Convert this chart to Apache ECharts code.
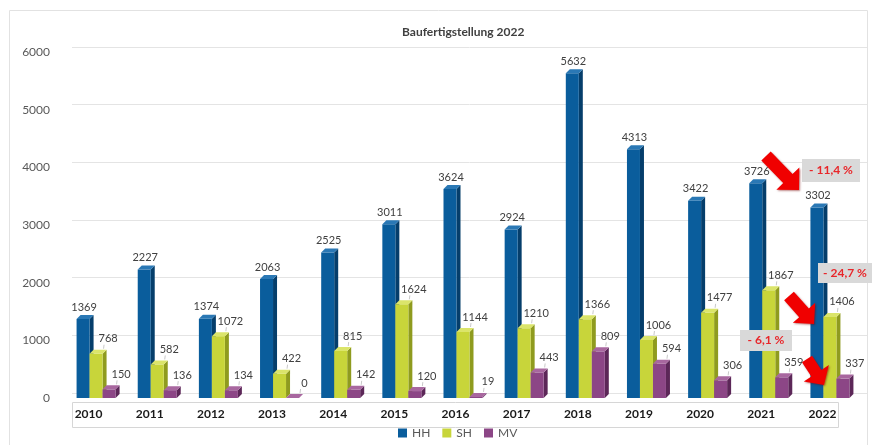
<!DOCTYPE html>
<html>
<head>
<meta charset="utf-8">
<script src="https://cdn.jsdelivr.net/npm/echarts@6/dist/echarts.min.js"></script>
<style>html,body{margin:0;padding:0;background:#fff}#c{width:873px;height:445px}</style>
</head>
<body>
<div id="c"></div>
<script>
const years = ['2010','2011','2012','2013','2014','2015','2016','2017','2018','2019','2020','2021','2022'];
const hh = [1369,2227,1374,2063,2525,3011,3624,2924,5632,4313,3422,3726,3302];
const sh = [768,582,1072,422,815,1624,1144,1210,1366,1006,1477,1867,1406];
const mv = [150,136,134,0,142,120,19,443,809,594,306,359,337];
const yTicks = [0,1000,2000,3000,4000,5000,6000];
const notes = [
  {text:'- 11,4 %', box:[802,159,58,23], arrow:[766,156,799,190,13,32,16]},
  {text:'- 24,7 %', box:[818,263,54,20], arrow:[789,296,814,324,13,30,15]},
  {text:'- 6,1 %',  box:[740,330,52,21], arrow:[807,359,824,385,12,30,14]}
];

const FONT = 'Lato, "Liberation Sans", sans-serif';
const chart = echarts.init(document.getElementById('c'));

function make3d(offset, col, isHH){
  return function(params, api){
    const i = api.value(0), v = api.value(1);
    const base = api.coord([i, 0]);
    const top = api.coord([i, v]);
    const w = 13, d = 4;
    const cx = base[0] + offset;
    const x0 = cx - w/2, x1 = cx + w/2;
    const yT = top[1], yB = base[1];
    const ch = [
      {type:'polygon', shape:{points:[[x1,yT],[x1+d,yT-d],[x1+d,yB-d],[x1,yB]]}, style:{fill:col.side}},
      {type:'rect', shape:{x:x0, y:yT, width:w, height:yB-yT}, style:{fill:col.front}},
      {type:'polygon', shape:{points:[[x0,yT],[x0+d,yT-d],[x1+d,yT-d],[x1,yT]]}, style:{fill:col.top}}
    ];
    if (isHH) {
      ch.push({type:'text', style:{text:String(v), x:cx+1, y:yT-12, align:'center', verticalAlign:'middle', fill:'#404040', font:'11px ' + FONT}});
    } else {
      ch.push({type:'line', shape:{x1:x1+1, y1:yT-d-1, x2:cx+8, y2:yT-9}, style:{stroke:'#c8c8c8', lineWidth:1}});
      ch.push({type:'text', style:{text:String(v), x:cx+12, y:yT-15, align:'center', verticalAlign:'middle', fill:'#404040', font:'11px ' + FONT}});
    }
    return {type:'group', children:ch};
  };
}

function arrowPts(x1,y1,x2,y2,sw,hw,hl){
  const L = Math.hypot(x2-x1,y2-y1), ux=(x2-x1)/L, uy=(y2-y1)/L, nx=-uy, ny=ux;
  const bx = x2-ux*hl, by = y2-uy*hl;
  return [
    [x1+nx*sw/2, y1+ny*sw/2],
    [bx+nx*sw/2, by+ny*sw/2],
    [bx+nx*hw/2, by+ny*hw/2],
    [x2, y2],
    [bx-nx*hw/2, by-ny*hw/2],
    [bx-nx*sw/2, by-ny*sw/2],
    [x1-nx*sw/2, y1-ny*sw/2]
  ];
}

const graphics = [
  {type:'rect', shape:{x:9.5, y:10.5, width:858, height:440}, style:{fill:'none', stroke:'#e2e2e2', lineWidth:1}, z:-10},
  {type:'rect', shape:{x:72.5, y:402.5, width:766, height:25}, style:{fill:'none', stroke:'#d6d6d6', lineWidth:1}, z:-10}
];
notes.forEach(n => {
  graphics.push({type:'rect', shape:{x:n.box[0], y:n.box[1], width:n.box[2], height:n.box[3]}, style:{fill:'#d9d9d9'}, z:50});
  graphics.push({type:'text', style:{text:n.text, x:n.box[0]+n.box[2]/2, y:n.box[1]+n.box[3]/2, align:'center', verticalAlign:'middle', fill:'#e8262a', font:'bold 12px ' + FONT}, z:51});
  const a = n.arrow;
  graphics.push({type:'polygon', shape:{points:arrowPts(a[0],a[1],a[2],a[3],a[4],a[5],a[6])}, style:{fill:'#f00000', shadowBlur:2, shadowColor:'rgba(120,0,0,0.5)', shadowOffsetX:1, shadowOffsetY:1}, z:52});
});

const colHH = {front:'#0a5d9c', side:'#053e6b', top:'#2a78b5'};
const colSH = {front:'#c8d53a', side:'#8f9b1f', top:'#dbe56a'};
const colMV = {front:'#8c4686', side:'#5c2758', top:'#a8679f'};

chart.setOption({
  animation:false,
  textStyle:{fontFamily:FONT},
  title:{text:'Baufertigstellung 2022', left:397, top:21, textStyle:{fontSize:12, fontWeight:'bold', color:'#404040', fontFamily:FONT}},
  legend:{bottom:1, left:393, itemWidth:9, itemHeight:9, itemGap:12, icon:'rect',
    textStyle:{fontSize:12, color:'#595959', fontFamily:FONT},
    data:['HH','SH','MV']},
  grid:[
    {left:66, right:12, top:52, bottom:47},
    {left:72, right:6, top:47, bottom:52}
  ],
  xAxis:[
    {type:'category', data:years, gridIndex:0, axisLine:{show:false}, axisTick:{show:false},
     axisLabel:{margin:10, fontSize:12, fontWeight:'bold', color:'#1a1a1a', padding:[0,16,0,0], fontFamily:FONT}},
    {type:'category', data:years, gridIndex:1, show:false}
  ],
  yAxis:[
    {type:'value', gridIndex:0, min:0, max:6000, interval:1000, splitLine:{show:false},
     axisLine:{show:false}, axisTick:{show:false},
     axisLabel:{margin:16, fontSize:12, color:'#595959', padding:[10,0,0,0], fontFamily:FONT,
       formatter: v => yTicks.includes(v) ? String(v) : ''}},
    {type:'value', gridIndex:1, min:0, max:6000, interval:1000,
     splitLine:{show:true, lineStyle:{color:'#e4e4e4', width:1}},
     axisLine:{show:false}, axisTick:{show:false}, axisLabel:{show:false}}
  ],
  series:[
    {name:'HH', type:'custom', xAxisIndex:0, yAxisIndex:0, itemStyle:{color:colHH.front},
     renderItem:make3d(-13.5, colHH, true), data:hh.map((v,i)=>[i,v]), encode:{x:0,y:1}, z:3},
    {name:'SH', type:'custom', xAxisIndex:0, yAxisIndex:0, itemStyle:{color:colSH.front},
     renderItem:make3d(-0.5, colSH, false), data:sh.map((v,i)=>[i,v]), encode:{x:0,y:1}, z:4},
    {name:'MV', type:'custom', xAxisIndex:0, yAxisIndex:0, itemStyle:{color:colMV.front},
     renderItem:make3d(12.5, colMV, false), data:mv.map((v,i)=>[i,v]), encode:{x:0,y:1}, z:5}
  ],
  graphic:graphics
});
</script>
</body>
</html>
